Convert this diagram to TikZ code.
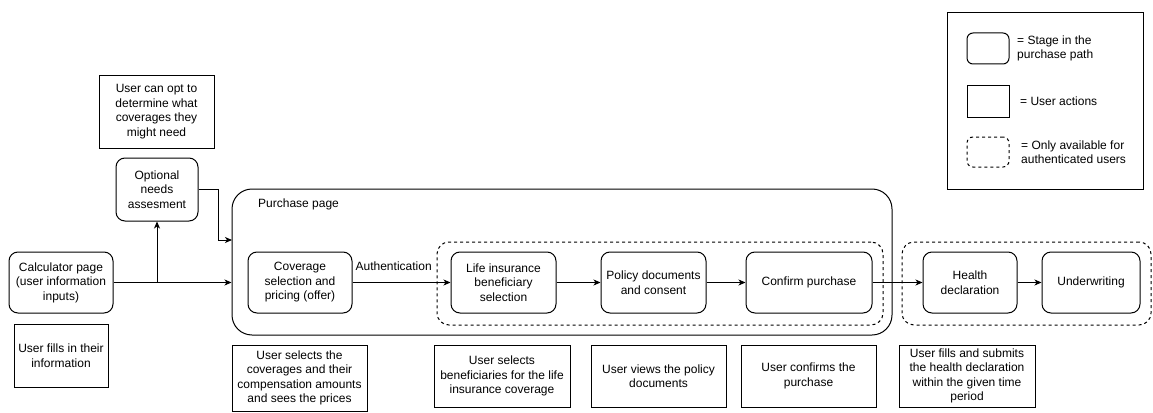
\documentclass[tikz,border=0pt]{standalone}
\usepackage{fontspec}
\setmainfont{Liberation Sans}
\usetikzlibrary{arrows.meta,calc}
\begin{document}
\begin{tikzpicture}[x=1pt,y=-1pt,
  every node/.style={font=\fontsize{12}{14.5}\selectfont, align=center, inner sep=0pt},
  stage/.style={draw, line width=1pt, rounded corners=9pt, minimum height=61pt},
  action/.style={draw, line width=1pt},
  page/.style={draw, line width=1pt, rounded corners=20pt},
  authzone/.style={draw, line width=1pt, dash pattern=on 3pt off 3pt, rounded corners=12pt},
  arr/.style={line width=1pt, -{Stealth[length=7pt,width=6pt,inset=2pt]}}
]
\useasboundingbox (0,0) rectangle (1153,412);

% containers
\node[page, minimum width=660pt, minimum height=146pt] (purchase) at (562,262) {};
\node[anchor=west] (purchaselbl) at (258,204) {Purchase page};
\node[authzone, minimum width=446pt, minimum height=83pt] (authA) at (660,283.5) {};
\node[authzone, minimum width=249pt, minimum height=83pt] (authB) at (1026.5,283.5) {};

% stages of the purchase path
\node[stage, minimum width=104pt] (calc) at (61,282.5) {Calculator page\\(user information\\inputs)};
\node[stage, minimum width=82pt, minimum height=63pt] (optional) at (157,189.5) {Optional\\needs\\assesment};
\node[stage, minimum width=104pt] (coverage) at (300,282.5) {Coverage\\selection and\\pricing (offer)};
\node[stage, minimum width=105pt] (life) at (503.5,282.5) {Life insurance\\beneficiary\\selection};
\node[stage, minimum width=105pt] (policy) at (653.5,282.5) {Policy documents\\and consent};
\node[stage, minimum width=126pt] (confirm) at (809,282.5) {Confirm purchase};
\node[stage, minimum width=94pt] (health) at (970,282.5) {Health\\declaration};
\node[stage, minimum width=98pt] (under) at (1091,282.5) {Underwriting};

% user actions
\node[action, minimum width=115pt, minimum height=73pt] (optnote) at (156.5,111.5) {User can opt to\\determine what\\coverages they\\might need};
\node[action, minimum width=94pt, minimum height=63pt] (fillnote) at (61,355.5) {User fills in their\\information};
\node[action, minimum width=135pt, minimum height=66pt] (covnote) at (299.5,378) {User selects the\\coverages and their\\compensation amounts\\and sees the prices};
\node[action, minimum width=136pt, minimum height=62pt] (lifenote) at (502,376) {User selects\\beneficiaries for the life\\insurance coverage};
\node[action, minimum width=135pt, minimum height=62pt] (policynote) at (658.5,376) {User views the policy\\documents};
\node[action, minimum width=135pt, minimum height=62pt] (confirmnote) at (808.5,376) {User confirms the\\purchase};
\node[action, minimum width=136pt, minimum height=62pt] (healthnote) at (967,376) {User fills and submits\\the health declaration\\within the given time\\period};

% connectors
\coordinate (fork) at (calc.east -| optional.south);
\coordinate (entry) at (232,240);
\draw[arr] (calc.east) -- (calc.east -| purchase.west);
\draw[arr] (fork) -- (optional.south);
\draw[arr] (optional.east) -- ++(20,0) |- (entry);
\draw[arr] (coverage) -- node[above=11pt, pos=0.42] (authlbl) {Authentication} (life);
\draw[arr] (life) -- (policy);
\draw[arr] (policy) -- (confirm);
\draw[arr] (confirm) -- (health);
\draw[arr] (health) -- (under);

% legend
\node[action, minimum width=196pt, minimum height=176pt] (legend) at (1045,101) {};
\node[draw, line width=1pt, rounded corners=6pt, minimum width=42pt, minimum height=31pt] (legstage) at (988,48.5) {};
\node[action, minimum width=42pt, minimum height=32pt] (legaction) at (988,101) {};
\node[authzone, rounded corners=6pt, minimum width=42pt, minimum height=30pt] (legauth) at (988,152) {};
\node[anchor=west, align=left] (legstagetxt) at (1017,48.5) {= Stage in the\\purchase path};
\node[anchor=west, align=left] (legactiontxt) at (1020,101) {= User actions};
\node[anchor=west, align=left] (legauthtxt) at (1021,152) {= Only available for\\authenticated users};
\end{tikzpicture}
\end{document}
